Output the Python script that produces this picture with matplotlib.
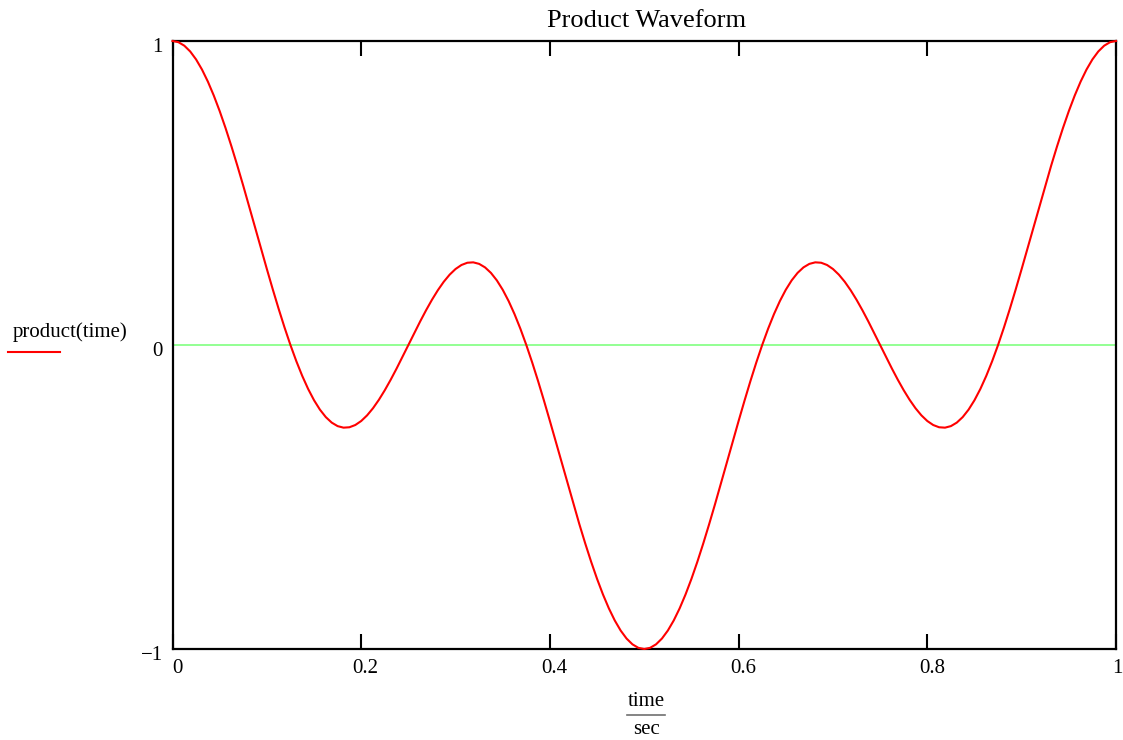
import matplotlib
matplotlib.use("Agg")
import matplotlib.pyplot as plt
from matplotlib.transforms import ScaledTranslation

plt.rcParams['font.family'] = ['Liberation Serif', 'DejaVu Serif']

# time values (x), step 0.00625
time = [i * 0.00625 for i in range(161)]
# product(time) values, from t = 0 to t = 0.5
first_half = [1.0, 0.99616, 0.98465, 0.96563, 0.93936, 0.90613, 0.86639, 0.82063,
              0.76943, 0.71341, 0.65328, 0.58979, 0.52373, 0.45588, 0.38709, 0.31819,
              0.25, 0.18333, 0.11895, 0.05761, 0.0, -0.05326, -0.10159, -0.14453,
              -0.18164, -0.21261, -0.23721, -0.2553, -0.26685, -0.2719, -0.2706,
              -0.26319, -0.25, -0.23144, -0.20801, -0.18024, -0.14878, -0.11429,
              -0.07749, -0.03914, 0.0, 0.03914, 0.07749, 0.11429, 0.14878, 0.18024,
              0.20801, 0.23144, 0.25, 0.26319, 0.2706, 0.2719, 0.26685, 0.2553,
              0.23721, 0.21261, 0.18164, 0.14453, 0.10159, 0.05326, 0.0, -0.05761,
              -0.11895, -0.18333, -0.25, -0.31819, -0.38709, -0.45588, -0.52373,
              -0.58979, -0.65328, -0.71341, -0.76943, -0.82063, -0.86639, -0.90613,
              -0.93936, -0.96563, -0.98465, -0.99616, -1.0]
# the curve is mirror-symmetric about t = 0.5
product = first_half + first_half[-2::-1]
zero_line = [0.0, 0.0]
zero_x = [0.0, 1.0]

xticks = [0, 0.2, 0.4, 0.6, 0.8, 1]
xticklabels = ['0', '0.2', '0.4', '0.6', '0.8', '1']
yticks = [-1, 0, 1]
yticklabels = ['\u22121', '0', '1']

W, H = 1123, 740
fig = plt.figure(figsize=(W / 100, H / 100), dpi=100)
L, R, T, B = 172.5, 1116, 41, 649
ax = fig.add_axes([L / W, 1 - B / H, (R - L) / W, (B - T) / H])

ax.plot(zero_x, zero_line, color='#80ff80', lw=1.2, zorder=2)
ax.plot(time, product, color='#ff0000', lw=1.5, zorder=3, clip_on=False)

ax.set_xlim(0, 1)
ax.set_ylim(-1, 1)
for s in ax.spines.values():
    s.set_linewidth(1.6)
    s.set_color('black')

ax.set_xticks(xticks, xticklabels)
ax.set_yticks(yticks, yticklabels)
ax.tick_params(axis='x', direction='in', length=11, width=1.5, top=True,
               labelsize=15, pad=7)
ax.tick_params(axis='y', length=0, labelsize=15, pad=7)
xlabs = ax.get_xticklabels()
for i, lab in enumerate(xlabs):
    dx = 4.5 if i < len(xlabs) - 1 else 1.5
    lab.set_transform(lab.get_transform() + ScaledTranslation(dx / 100, 0, fig.dpi_scale_trans))
for lab in ax.get_yticklabels():
    lab.set_transform(lab.get_transform() + ScaledTranslation(0, -4 / 100, fig.dpi_scale_trans))

cx = (L + R) / 2 / W
fig.text(cx + 2 / W, 1 - 21 / H, 'Product Waveform', ha='center', va='center', fontsize=19)

# x-axis label as a fraction time/sec
fig.text(646 / W, 1 - 702 / H, 'time', ha='center', va='center', fontsize=15)
fig.add_artist(plt.Line2D([627 / W, 665 / W], [1 - 715 / H, 1 - 715 / H],
                          color='#707070', lw=1.2))
fig.text(646 / W, 1 - 729 / H, 'sec', ha='center', va='center', fontsize=15)

# legend
fig.text(13 / W, 1 - 332 / H, 'product(time)', ha='left', va='center', fontsize=15)
fig.add_artist(plt.Line2D([8 / W, 60 / W], [1 - 352 / H, 1 - 352 / H],
                          color='#ff0000', lw=1.5))

fig.savefig('out.png', dpi=100)
